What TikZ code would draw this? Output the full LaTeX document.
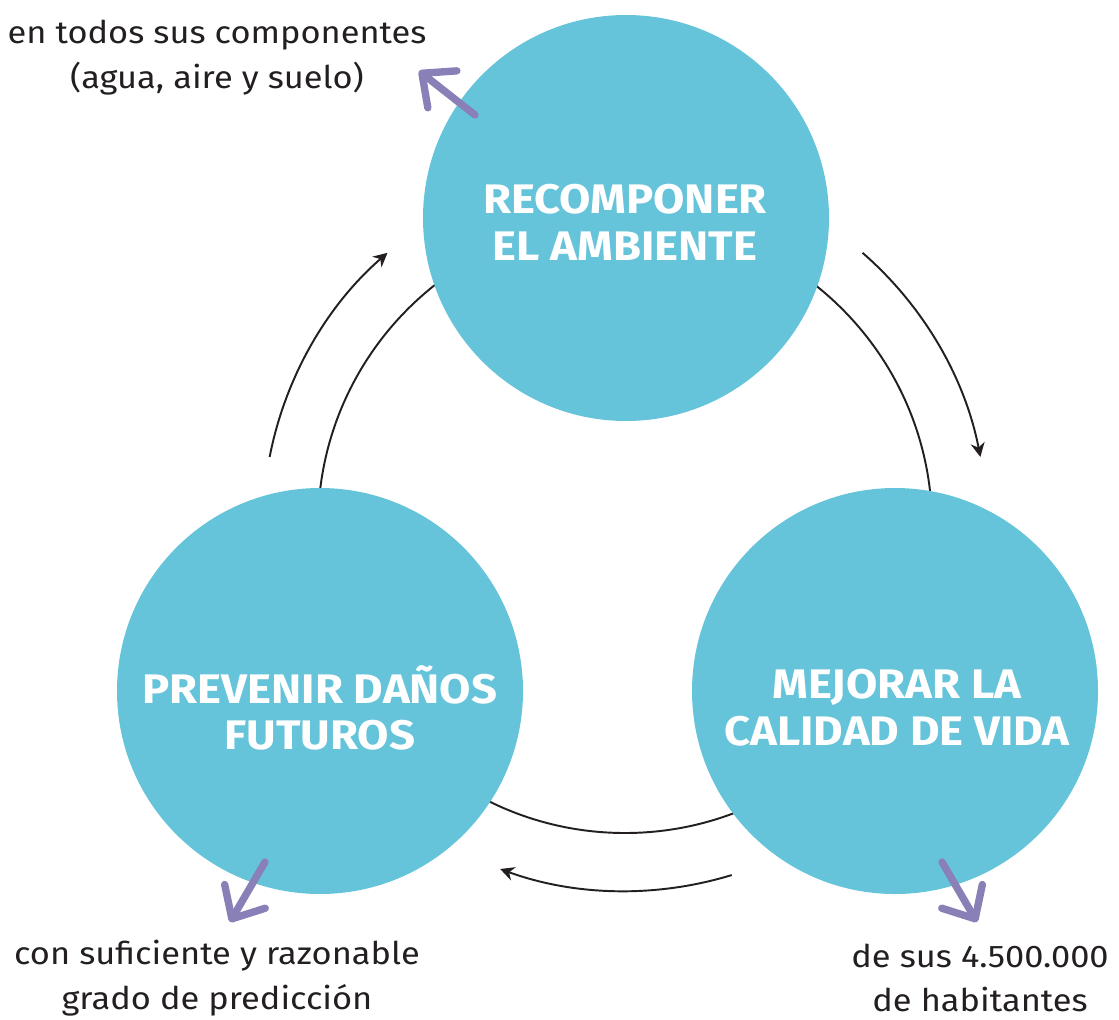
\documentclass[tikz,border=0pt]{standalone}
\usepackage{fontspec}
\setmainfont{Fira Sans}[FakeStretch=1.1]
\usetikzlibrary{arrows.meta}
\definecolor{celeste}{RGB}{102,196,218}
\definecolor{morado}{RGB}{137,128,184}
\definecolor{texto}{RGB}{35,31,32}
\tikzset{
    circulo/.style={circle, fill=celeste, minimum size=8.12cm, inner sep=0pt,
        text=white, font=\fontsize{23.5}{26.6}\selectfont\bfseries, align=center},
    nota/.style={text=texto, font=\fontsize{17.8}{25.5}\selectfont, align=center},
    flecha/.style={draw=texto, line width=1.1pt, -{Stealth[length=2.8mm, width=2.8mm, inset=0.9mm]}},
    guia/.style={draw=texto, line width=1.1pt},
    morada/.style={draw=morado, line width=4.2pt, line cap=round,
        -{Straight Barb[round, length=5.2mm, width=9.4mm]}}
}
\begin{document}
\begin{tikzpicture}
    \useasboundingbox (0,0) rectangle (22.38,-20.38);
    % Centro del ciclo
    \coordinate (centro) at (12.50,-10.52);

    % Anillo interior
    \draw[guia] (centro) circle[radius=6.14];

    % Circulos
    \node[circulo] (recomponer) at (12.52,-4.36) {};
    \node[circulo] (prevenir) at (6.40,-13.82) {};
    \node[circulo] (mejorar) at (17.90,-13.82) {};
    \node[circulo, fill=none] at (12.50,-4.44) {RECOMPONER\\EL AMBIENTE};
    \node[circulo, fill=none] at (6.40,-14.16) {PREVENIR DAÑOS\\FUTUROS};
    \node[circulo, fill=none] at (17.94,-14.16) {MEJORAR LA\\CALIDAD DE VIDA};

    % Flechas del ciclo
    \draw[flecha] (centro) ++(169:7.24) arc[start angle=169, end angle=131, radius=7.24];
    \draw[flecha] (centro) ++(49:7.24) arc[start angle=49, end angle=11, radius=7.24];
    \draw[flecha] (centro) ++(-73:7.30) arc[start angle=-73, end angle=-110, radius=7.30];

    % Notas
    \node[nota] (componentes) at (4.34,-1.16) {en todos sus componentes\\(agua, aire y suelo)};
    \node[nota] (prediccion) at (4.34,-19.56) {con suficiente y razonable\\grado de predicción};
    \node[nota] (habitantes) at (19.60,-19.56) {de sus 4.500.000\\de habitantes};

    % Flechas moradas
    \coordinate (a1) at (9.50,-2.30);
    \coordinate (a2) at (8.38,-1.42);
    \coordinate (b1) at (5.30,-17.24);
    \coordinate (b2) at (4.60,-18.44);
    \coordinate (c1) at (18.84,-17.24);
    \coordinate (c2) at (19.54,-18.44);
    \draw[morada] (a1) -- (a2);
    \draw[morada] (b1) -- (b2);
    \draw[morada] (c1) -- (c2);
\end{tikzpicture}
\end{document}
